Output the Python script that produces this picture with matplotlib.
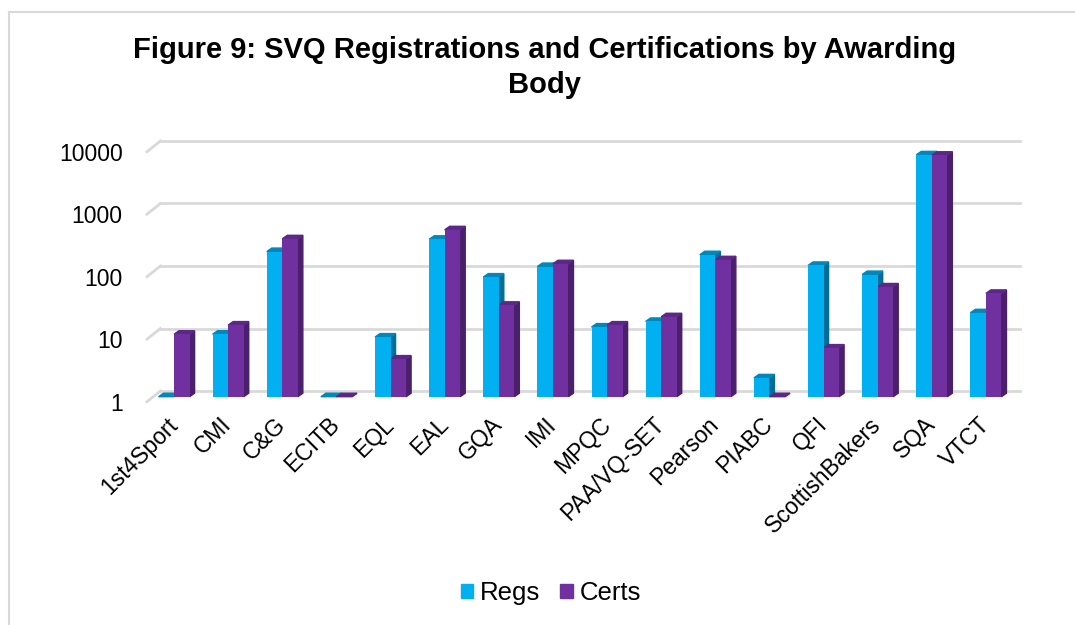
import matplotlib
matplotlib.use("Agg")
import matplotlib.pyplot as plt
from matplotlib.patches import Polygon
from matplotlib.transforms import ScaledTranslation
from matplotlib.lines import Line2D
import numpy as np

bodies = ["1st4Sport", "CMI", "C&G", "ECITB", "EQL", "EAL", "GQA", "IMI",
          "MPQC", "PAA/VQ-SET", "Pearson", "PIABC", "QFI", "ScottishBakers",
          "SQA", "VTCT"]
regs = [1, 10, 210, 1, 9, 330, 82, 121, 13, 16, 187, 2, 126, 90, 7400, 22]
certs = [10, 14, 336, 1, 4, 468, 29, 134, 14, 19, 155, 1, 6, 57, 7300, 45]
yticks = [1, 10, 100, 1000, 10000]

regs_col = ("#00B0F0", "#0088BB", "#006E96")   # front, top, side
certs_col = ("#7030A0", "#5C2786", "#4A1F6B")

plt.rcParams["font.family"] = ["Liberation Sans", "DejaVu Sans"]

fig = plt.figure(figsize=(10.75, 6.25), dpi=100)
W, H = 1075, 625
ax = fig.add_axes([147 / W, (H - 401.7) / H, 866 / W, 250 / H])
ax.set_yscale("log")
ax.set_ylim(1, 10000)
ax.set_xlim(-0.5, len(bodies) - 0.5)
for s in ax.spines.values():
    s.set_visible(False)

px = lambda dx, dy: ScaledTranslation(dx / 100, dy / 100, fig.dpi_scale_trans)

# back wall gridlines and left wall diagonals
back = ax.transData + px(13.4, 10.7)
for t in yticks:
    ax.add_line(Line2D([-0.5, len(bodies) - 0.5 - 0.12], [t, t], transform=back,
                       color="#D9D9D9", lw=2, clip_on=False, zorder=0))
    x0, y0 = ax.transData.transform((-0.5, t))
    ax.add_line(Line2D([x0, x0 + 13.4], [y0, y0 + 10.7], transform=None,
                       color="#D9D9D9", lw=2, clip_on=False, zorder=0))

# 3D-looking bars, lifted to the middle of the floor depth
lift = ax.transData + px(0, 5)
base = 1
bw = 0.287
dxp, dyp = 5, 3.5


def bar3d(xl, v, cols):
    face, top, side = cols
    ax.bar(xl, v - base, width=bw, bottom=base, align="edge", color=face,
           transform=lift, zorder=3, clip_on=False)
    (a, b0), (c, b1) = lift.transform([(xl, base), (xl + bw, v)])
    ax.add_patch(Polygon([(c, b0), (c + dxp, b0 + dyp), (c + dxp, b1 + dyp),
                          (c, b1)], closed=True, transform=None, color=side,
                         zorder=2, clip_on=False))
    ax.add_patch(Polygon([(a, b1), (a + dxp, b1 + dyp), (c + dxp, b1 + dyp),
                          (c, b1)], closed=True, transform=None, color=top,
                         zorder=2, clip_on=False))


for i in range(len(bodies)):
    bar3d(i - bw, regs[i], regs_col)
    bar3d(i, certs[i], certs_col)

ax.set_yticks(yticks, [str(t) for t in yticks])
ax.minorticks_off()
ax.tick_params(axis="y", length=0, pad=17.5, labelsize=16.5)
ax.set_xticks(range(len(bodies)), bodies)
ax.tick_params(axis="x", length=0, pad=14, labelsize=16.5)
for lab in ax.get_xticklabels():
    lab.set_rotation(45)
    lab.set_ha("right")
    lab.set_va("center")
    lab.set_rotation_mode("anchor")

fig.text(545 / W, 1 - 50 / H, "Figure 9: SVQ Registrations and Certifications by Awarding",
         ha="center", va="center", fontsize=21, fontweight="bold")
fig.text(545 / W, 1 - 85 / H, "Body", ha="center", va="center",
         fontsize=21, fontweight="bold")

handles = [plt.Rectangle((0, 0), 1, 1, color=regs_col[0]),
           plt.Rectangle((0, 0), 1, 1, color=certs_col[0])]
fig.legend(handles, ["Regs", "Certs"], loc="center", bbox_to_anchor=(551 / W, 1 - 593 / H),
           ncol=2, frameon=False, fontsize=18.5, handlelength=0.5, handleheight=0.5,
           handletextpad=0.27, columnspacing=0.77)

# chart-area frame (only top and left edges fall inside the image)
fig.add_artist(Line2D([9 / W, 9 / W], [0, 1 - 12 / H], transform=fig.transFigure,
                      color="#D9D9D9", lw=1.5))
fig.add_artist(Line2D([9 / W, 1], [1 - 12 / H, 1 - 12 / H], transform=fig.transFigure,
                      color="#D9D9D9", lw=1.5))

fig.savefig("out.png", dpi=100)
